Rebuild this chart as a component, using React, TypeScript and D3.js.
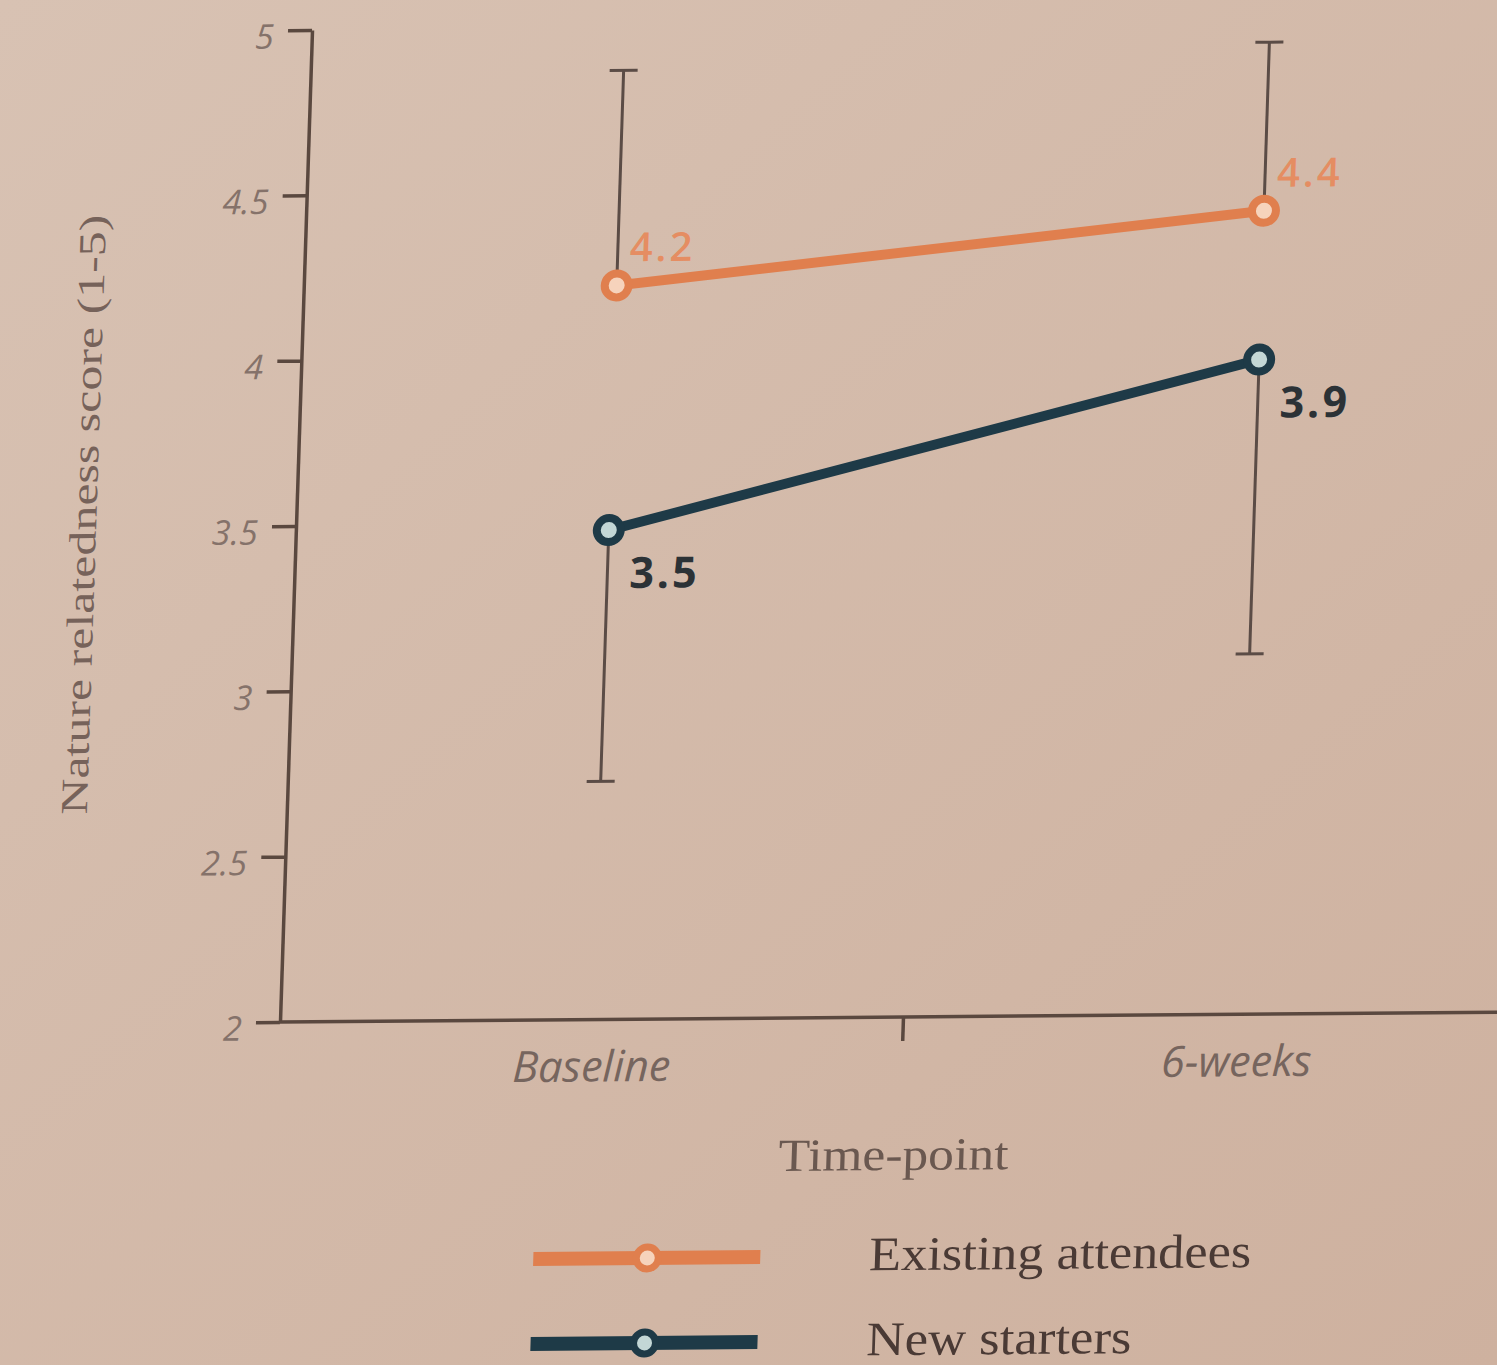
import React, { useEffect, useRef } from 'react';
import * as d3 from 'd3';

const timePoints = ['Baseline', '6-weeks'];
const existingMeans = [4.22, 4.43];
const existingUpper = [4.87, 4.94];
const existingLabels = ['4.2', '4.4'];
const newMeans = [3.48, 3.98];
const newLower = [2.72, 3.09];
const newLabels = ['3.5', '3.9'];
const yTicks = [2, 2.5, 3, 3.5, 4, 4.5, 5];
const legendNames = ['Existing attendees', 'New starters'];

const ORANGE = '#e07f4e';
const BLUE = '#1e3a47';
const INK = '#5a483f';

const App = () => {
  const svgRef = useRef(null);

  useEffect(() => {
    const width = 1497;
    const height = 1365;
    const margin = { top: 30, right: 1540, bottom: 1022, left: 280 };

    const svg = d3.select(svgRef.current);
    svg.selectAll('*').remove();
    svg.attr('width', width).attr('height', height);

    // paper background
    const grad = svg.append('defs').append('linearGradient')
      .attr('id', 'paper')
      .attr('x1', 0).attr('y1', 0).attr('x2', 1).attr('y2', 1);
    grad.append('stop').attr('offset', '0%').attr('stop-color', '#d8c2b3');
    grad.append('stop').attr('offset', '100%').attr('stop-color', '#ceb19f');
    svg.append('rect').attr('width', width).attr('height', height).attr('fill', 'url(#paper)');

    // the source is a photo of a printed page, slightly skewed
    const g = svg.append('g').attr('transform', 'matrix(1,-0.008,-0.0323,1,33,2.24)');

    const x = d3.scalePoint().domain(timePoints).range([593, 1238]);
    const y = d3.scaleLinear().domain([2, 5]).range([margin.bottom, margin.top]);

    // y axis
    const yAxis = g.append('g')
      .attr('transform', `translate(${margin.left},0)`)
      .call(d3.axisLeft(y).tickValues(yTicks).tickSize(24).tickSizeOuter(0).tickPadding(14)
        .tickFormat(d => String(d)));
    yAxis.select('.domain').attr('stroke', INK).attr('stroke-width', 3.5);
    yAxis.selectAll('.tick line').attr('stroke', INK).attr('stroke-width', 3.5);
    yAxis.selectAll('.tick text')
      .attr('fill', '#85726a')
      .attr('dy', '0.52em')
      .style('font-family', '"Open Sans", sans-serif')
      .style('font-style', 'italic')
      .style('font-size', '34px');

    // x axis
    g.append('line')
      .attr('x1', margin.left).attr('x2', margin.right)
      .attr('y1', margin.bottom).attr('y2', margin.bottom)
      .attr('stroke', INK).attr('stroke-width', 3.5);
    const midX = (x(timePoints[0]) + x(timePoints[1])) / 2 - 12;
    g.append('line')
      .attr('x1', midX).attr('x2', midX)
      .attr('y1', margin.bottom).attr('y2', margin.bottom + 24)
      .attr('stroke', INK).attr('stroke-width', 3.5);
    g.selectAll('.xlabel')
      .data(timePoints)
      .enter()
      .append('text')
      .attr('x', d => x(d))
      .attr('y', margin.bottom + 62)
      .attr('text-anchor', 'middle')
      .attr('fill', '#76655e')
      .style('font-family', '"Open Sans", sans-serif')
      .style('font-style', 'italic')
      .style('font-size', '43px')
      .text(d => d);

    g.append('text')
      .attr('x', 898)
      .attr('y', 1175)
      .attr('text-anchor', 'middle')
      .attr('fill', '#6a5850')
      .attr('textLength', 230)
      .attr('lengthAdjust', 'spacingAndGlyphs')
      .style('font-family', '"Liberation Serif", serif')
      .style('font-size', '46px')
      .text('Time-point');

    g.append('text')
      .attr('transform', 'translate(80,513) rotate(-90)')
      .attr('text-anchor', 'middle')
      .attr('fill', '#76625a')
      .attr('textLength', 600)
      .attr('lengthAdjust', 'spacingAndGlyphs')
      .style('font-family', '"Liberation Serif", serif')
      .style('font-size', '38px')
      .text('Nature relatedness score (1-5)');

    // error bars (one-sided, as printed)
    const capW = 14;
    const drawBars = (means, ends) => {
      const bars = g.append('g').attr('stroke', '#5b4c46').attr('stroke-width', 3);
      means.forEach((m, i) => {
        const cx = x(timePoints[i]);
        bars.append('line').attr('x1', cx).attr('x2', cx).attr('y1', y(m)).attr('y2', y(ends[i]));
        bars.append('line').attr('x1', cx - capW).attr('x2', cx + capW).attr('y1', y(ends[i])).attr('y2', y(ends[i]));
      });
    };
    drawBars(existingMeans, existingUpper);
    drawBars(newMeans, newLower);

    const line = d3.line()
      .x((d, i) => x(timePoints[i]))
      .y(d => y(d));

    const series = [
      { values: existingMeans, labels: existingLabels, color: ORANGE, fill: '#f6d3bc', labelFill: '#e58d62', weight: 600, size: 40, dx: 12, dy: -24 },
      { values: newMeans, labels: newLabels, color: BLUE, fill: '#c3d7d6', labelFill: '#2c3236', weight: 700, size: 43, dx: 22, dy: 58 },
    ];

    series.forEach(s => {
      g.append('path')
        .datum(s.values)
        .attr('d', line)
        .attr('fill', 'none')
        .attr('stroke', s.color)
        .attr('stroke-width', 10)
        .attr('stroke-linecap', 'round');

      g.selectAll(null)
        .data(s.values)
        .enter()
        .append('circle')
        .attr('cx', (d, i) => x(timePoints[i]))
        .attr('cy', d => y(d))
        .attr('r', 12)
        .attr('fill', s.fill)
        .attr('stroke', s.color)
        .attr('stroke-width', 8);

      g.selectAll(null)
        .data(s.values)
        .enter()
        .append('text')
        .attr('x', (d, i) => x(timePoints[i]) + s.dx)
        .attr('y', d => y(d) + s.dy)
        .attr('fill', s.labelFill)
        .style('font-family', '"Open Sans", sans-serif')
        .style('font-weight', s.weight)
        .style('font-size', `${s.size}px`)
        .style('letter-spacing', '3px')
        .text((d, i) => s.labels[i]);
    });

    // legend
    const legendY = [1261, 1346];
    const legendColors = [ORANGE, BLUE];
    const legendFills = ['#f6d3bc', '#c3d7d6'];
    const legendWidths = [382, 265];
    legendNames.forEach((name, i) => {
      const lg = g.append('g').attr('transform', `translate(0,${legendY[i]})`);
      lg.append('line')
        .attr('x1', 541).attr('x2', 768)
        .attr('stroke', legendColors[i])
        .attr('stroke-width', 14);
      lg.append('circle')
        .attr('cx', 655)
        .attr('r', 11)
        .attr('fill', legendFills[i])
        .attr('stroke', legendColors[i])
        .attr('stroke-width', 7);
      lg.append('text')
        .attr('x', 877)
        .attr('y', 14)
        .attr('fill', '#4a3a35')
        .attr('textLength', legendWidths[i])
        .attr('lengthAdjust', 'spacingAndGlyphs')
        .style('font-family', '"Liberation Serif", serif')
        .style('font-size', '48px')
        .text(name);
    });
  }, []);

  return (
    <svg ref={svgRef} style={{ position: 'absolute', left: 0, top: 0, display: 'block' }}></svg>
  );
};

export default App;
